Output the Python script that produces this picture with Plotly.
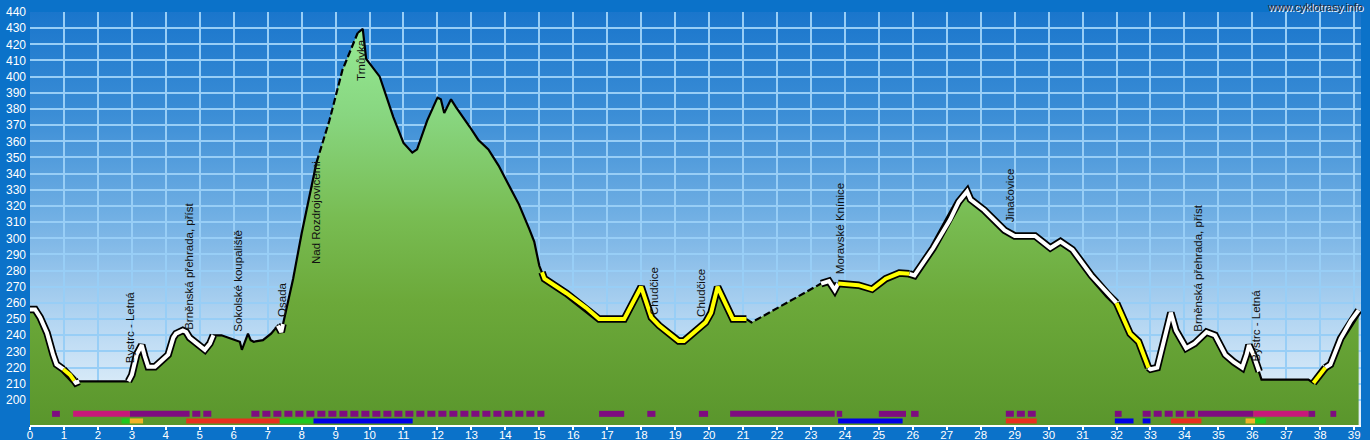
import base64
import plotly.graph_objects as go

# ---------------- data ----------------
km = [0.0, 0.15, 0.3, 0.5, 0.68, 0.78, 0.98, 1.18, 1.3, 1.35, 1.45, 2.9, 3.0, 3.14, 3.29, 3.38,
      3.48, 3.68, 3.92, 4.07, 4.22, 4.3, 4.5, 4.6, 4.7, 5.0, 5.15, 5.3, 5.4, 5.64, 6.18, 6.24,
      6.42, 6.5, 6.59, 6.86, 7.1, 7.3, 7.4, 7.45, 7.75, 8.0, 8.2, 8.44, 8.82, 9.2, 9.65, 9.8,
      9.9, 10.3, 10.7, 11.0, 11.26, 11.4, 11.7, 12.0, 12.1, 12.2, 12.4, 12.55, 12.95, 13.2,
      13.5, 13.8, 14.1, 14.4, 14.7, 14.85, 15.0, 15.08, 15.15, 15.8, 16.38, 16.76, 17.5, 18.0,
      18.3, 18.53, 19.1, 19.26, 19.9, 20.06, 20.25, 20.7, 21.1, 21.25, 21.6, 22.2, 22.8, 23.3,
      23.53, 23.7, 23.8, 24.4, 24.8, 25.2, 25.6, 25.9, 26.05, 26.6, 27.1, 27.35, 27.6, 27.7,
      28.1, 28.7, 29.0, 29.6, 30.05, 30.35, 30.7, 31.26, 31.76, 32.0, 32.4, 32.65, 32.94, 33.0,
      33.2, 33.4, 33.6, 33.75, 34.05, 34.3, 34.65, 34.9, 35.2, 35.45, 35.7, 35.83, 35.9, 36.03,
      36.2, 36.27, 37.65, 37.8, 37.94, 38.15, 38.3, 38.6, 38.9, 39.13]
elevation = [256, 256, 251, 241.5, 228, 222, 219, 215.5, 212, 210.6, 211.5, 211.5, 215.5, 228, 234, 227,
             220.5, 220.5, 225, 228, 238.5, 241, 243, 242, 238.5, 233, 231, 235, 240, 240, 236, 231,
             241, 237, 236, 237, 241, 246, 242, 247, 275, 303, 323, 347, 373, 404, 427, 429.5,
             411, 400, 375, 359, 353, 355, 373, 387, 386, 377.5, 386, 381, 369, 361,
             355, 345, 333, 321, 306, 298, 283, 279, 275, 266, 257, 250, 250, 270,
             251, 246, 236.5, 236.5, 248, 254, 270, 250, 250, 248, 252, 259, 266, 272,
             273.5, 268, 272, 271, 268.5, 275, 278.5, 278, 277, 294, 311.6, 322.5, 329, 324,
             317.5, 305, 301.5, 301.5, 294, 298, 293, 277, 265, 260, 241, 236, 220, 219,
             220, 237, 254, 243, 232, 235, 242, 240, 228, 223.5, 220, 228, 234, 228,
             217.6, 212.6, 212.6, 210.5, 214, 220, 222, 238, 249, 255.5]

# surface / style sections of the route (km from, km to)
solid_sections = [(0, 8.44), (9.65, 21.1), (23.3, 39.13)]
dashed_sections = [(8.44, 9.65), (21.1, 23.3)]
white_sections = [(0, 0.98), (1.3, 1.45), (2.9, 5.4), (7.3, 7.45), (23.3, 23.8),
                  (25.9, 32.0), (32.94, 36.2), (38.15, 39.13)]
yellow_sections = [(0.98, 1.3), (15.08, 21.1), (23.8, 25.9), (32.0, 32.94), (37.8, 38.15)]

# place labels
label_text = ["Bystrc - Letná", "Brněnská přehrada, příst", "Sokolské koupaliště", "Osada",
              "Nad Rozdrojovicemi", "Trnůvka", "Chudčice", "Chudčice", "Moravské Knínice",
              "Jinačovice", "Brněnská přehrada, příst", "Bystrc - Letná"]
label_km = [2.97, 4.68, 6.12, 7.44, 8.44, 9.73, 18.38, 19.76, 23.88, 28.85, 34.41, 36.12]
label_elev = [222, 243, 241.5, 250.5, 283.5, 397, 252, 250.7, 277.4, 309, 241.5, 223.5]

# coloured bars below the profile (row 1 and row 2)
row1_from = [0.65, 1.27, 2.94, 4.78, 6.52, 16.76, 18.18, 19.7, 20.62, 23.76, 25.0, 25.95, 28.74,
             31.95, 32.77, 34.4, 36.03, 37.65, 38.3]
row1_to = [0.88, 2.94, 4.7, 5.35, 15.15, 17.5, 18.42, 19.97, 23.7, 23.92, 25.8, 26.17, 29.62,
           32.15, 34.33, 36.03, 37.65, 37.85, 38.47]
row1_kind = ["purple", "magenta", "purple", "purple_dot", "purple_dot", "purple", "purple", "purple",
             "purple", "purple", "purple", "purple", "purple_dot", "purple", "purple_dot", "purple",
             "magenta", "purple", "purple"]
row2_from = [2.7, 2.94, 4.6, 7.35, 8.35, 23.8, 28.74, 31.95, 32.77, 33.6, 35.8, 36.08]
row2_to = [2.94, 3.33, 7.35, 8.35, 11.27, 25.7, 29.65, 32.5, 33.0, 34.5, 36.08, 36.4]
row2_kind = ["green", "orange", "red", "green", "blue", "blue", "red", "blue", "blue", "red",
             "orange", "green"]
row1_level = 191.4
row2_level = 187.0

x_ticks = list(range(0, 40))
y_ticks = list(range(200, 441, 10))

# ---------------- styles ----------------
Y_MIN, Y_MAX = 184.5, 440
X_MIN, X_MAX = 0, 39.2
FONT = "Arial, Liberation Sans, sans-serif"
BAR_COLORS = {"purple": "#7e0c80", "purple_dot": "#7e0c80", "magenta": "#c8187a",
              "red": "#e8301e", "green": "#1ec81e", "blue": "#0000e6", "orange": "#f2b428"}


def section(ranges):
    xs, ys = [], []
    for a, b in ranges:
        for k, e in zip(km, elevation):
            if a - 1e-9 <= k <= b + 1e-9:
                xs.append(k)
                ys.append(e)
        xs.append(None)
        ys.append(None)
    return xs, ys


fig = go.Figure()

# terrain fill with vertical gradient
fig.add_trace(go.Scatter(
    x=km, y=elevation, mode="lines", line=dict(width=0, color="rgba(0,0,0,0)"),
    fill="tozeroy",
    fillgradient=dict(type="vertical", start=Y_MIN, stop=Y_MAX,
                      colorscale=[[0, "#5a962c"], [0.3, "#6ca93a"], [0.5, "#78bc52"],
                                  [0.75, "#88d680"], [1, "#98ee98"]]),
    hoverinfo="skip", showlegend=False))

# thin black solid line
xs, ys = section(solid_sections)
fig.add_trace(go.Scatter(x=xs, y=ys, mode="lines", line=dict(color="black", width=2.2),
                         connectgaps=False, hoverinfo="skip", showlegend=False))
# dashed line
xs, ys = section(dashed_sections)
fig.add_trace(go.Scatter(x=xs, y=ys, mode="lines",
                         line=dict(color="black", width=2.2, dash="7px,3px"),
                         connectgaps=False, hoverinfo="skip", showlegend=False))
# highlighted sections: black outline, then colour
for ranges, col in ((white_sections, "white"), (yellow_sections, "#ffff00")):
    xs, ys = section(ranges)
    fig.add_trace(go.Scatter(x=xs, y=ys, mode="lines", line=dict(color="black", width=7.5),
                             connectgaps=False, hoverinfo="skip", showlegend=False))
for ranges, col in ((white_sections, "white"), (yellow_sections, "#ffff00")):
    xs, ys = section(ranges)
    fig.add_trace(go.Scatter(x=xs, y=ys, mode="lines", line=dict(color=col, width=4),
                             connectgaps=False, hoverinfo="skip", showlegend=False))

# bars
def add_bars(froms, tos, kinds, level, width):
    for kind in dict.fromkeys(kinds):
        xs, ys = [], []
        for a, b, k in zip(froms, tos, kinds):
            if k == kind:
                xs += [a, b, None]
                ys += [level, level, None]
        fig.add_trace(go.Scatter(
            x=xs, y=ys, mode="lines",
            line=dict(color=BAR_COLORS[kind], width=width,
                      dash="8px,3px" if kind.endswith("_dot") else "solid"),
            connectgaps=False, hoverinfo="skip", showlegend=False))


add_bars(row1_from, row1_to, row1_kind, row1_level, 6)
add_bars(row2_from, row2_to, row2_kind, row2_level, 5)

# labels
for t, xk, ye in zip(label_text, label_km, label_elev):
    fig.add_annotation(x=xk, y=ye, text=t, textangle=-90, showarrow=False,
                       xanchor="center", yanchor="bottom", borderpad=0,
                       font=dict(family=FONT, size=11.5, color="#101010"))

# watermark
fig.add_annotation(xref="paper", yref="paper", x=1, y=1, xanchor="right", yanchor="bottom",
                   xshift=4, yshift=-3, text="www.cyklotrasy.info", showarrow=False,
                   font=dict(family=FONT, size=11, color="#2a2a3a",
                             shadow="1px 1px 0px #ffffff"))

# sky gradient background
stops = [(0.0, "#1a76cc"), (0.25, "#3c8ed6"), (0.5, "#72b0e4"), (0.75, "#b4d6f2"),
         (0.9, "#d8eaf8"), (1.0, "#e6f2fc")]
stop_xml = "".join(f'<stop offset="{o}" stop-color="{c}"/>' for o, c in stops)
svg = ('<svg xmlns="http://www.w3.org/2000/svg" width="100" height="100" '
       'preserveAspectRatio="none"><defs><linearGradient id="g" x1="0" y1="0" x2="0" y2="1">'
       + stop_xml + '</linearGradient></defs><rect width="100" height="100" fill="url(#g)"/></svg>')
src = "data:image/svg+xml;base64," + base64.b64encode(svg.encode()).decode()
fig.add_layout_image(dict(source=src, xref="paper", yref="paper", x=0, y=1, sizex=1, sizey=1,
                          xanchor="left", yanchor="top", sizing="stretch", layer="below"))

fig.update_layout(
    width=1370, height=440,
    margin=dict(l=30, r=9, t=12, b=15, autoexpand=False),
    paper_bgcolor="#0b72c9", plot_bgcolor="rgba(0,0,0,0)",
    showlegend=False,
    font=dict(family=FONT),
)
fig.update_xaxes(range=[X_MIN, X_MAX], tickvals=x_ticks, ticktext=[str(v) for v in x_ticks],
                 automargin=False,
                 showgrid=True, gridcolor="#98cef6", gridwidth=1.5, zeroline=False,
                 showline=True, linecolor="white", linewidth=2,
                 ticks="outside", ticklen=3, tickcolor="white", tickwidth=1.5,
                 ticklabelstandoff=-5,
                 tickfont=dict(family=FONT, size=11.5, color="white"))
fig.update_yaxes(range=[Y_MIN, Y_MAX], tickvals=y_ticks, ticktext=[str(v) for v in y_ticks],
                 automargin=False,
                 showgrid=True, gridcolor="#98cef6", gridwidth=1.5, zeroline=False,
                 showline=False, ticks="", ticklabelstandoff=3,
                 tickfont=dict(family=FONT, size=12, color="white"))

fig.write_html("out.html", config={"displayModeBar": False},
               post_script="document.body.style.margin='0';document.body.style.overflow='hidden';")
